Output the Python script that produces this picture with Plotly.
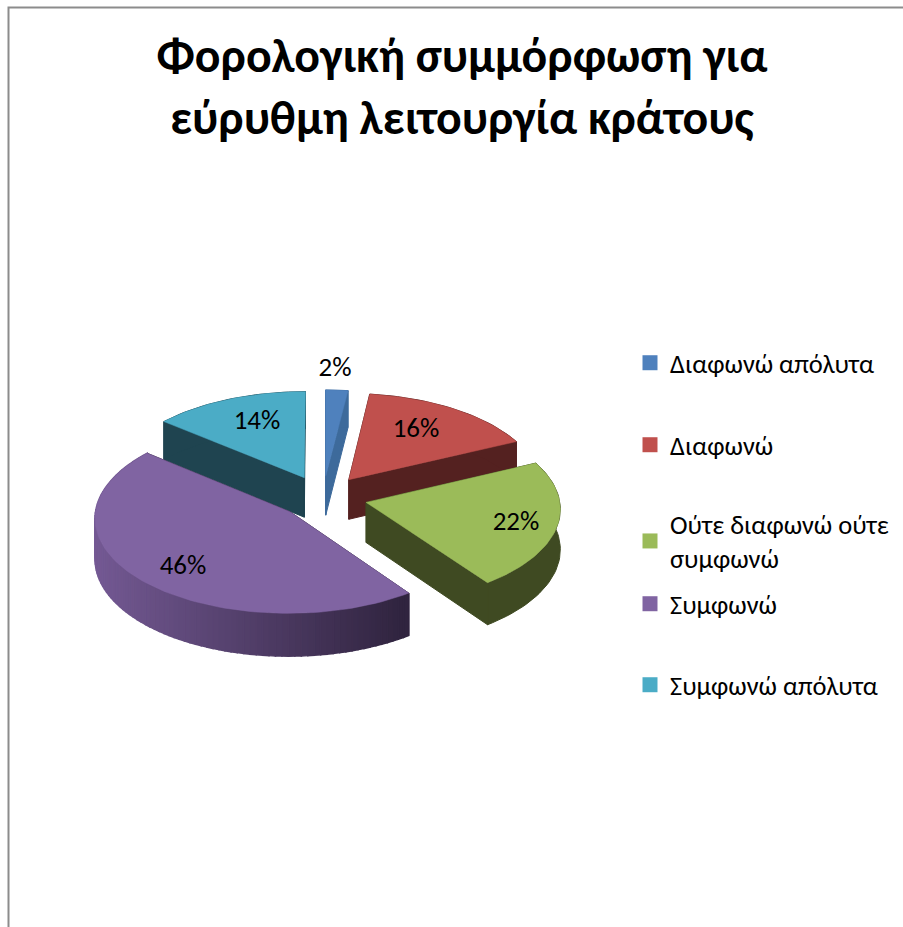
import math
import plotly.graph_objects as go

# ---- data ----
TITLE_LINES = ["Φορολογική συμμόρφωση για", "εύρυθμη λειτουργία κράτους"]
categories = ["Διαφωνώ απόλυτα", "Διαφωνώ", "Ούτε διαφωνώ ούτε<br>συμφωνώ", "Συμφωνώ", "Συμφωνώ απόλυτα"]
values = [2, 16, 22, 46, 14]

# ---- styles ----
top_colors = ["#4f81bd", "#c0504d", "#9bbb59", "#8064a2", "#4bacc6"]
wall_colors = ["#3d6a9b", "#542120", "#3f4a22", "#3b2d4c", "#1f4450"]
label_xy = [(335, 369), (416, 430), (516, 523), (183, 567), (257, 422)]
legend_y = [364, 446, 525, 605, 686]
FONT = "Carlito, Lato, 'Open Sans', sans-serif"
W, H = 903, 927
CX, CY, A, B, K, PULL, DEPTH = 323, 497, 193, 94, 0.06, 0.23, 40


def project(X, Y, drop=0.0):
    s = 1 - K * Y
    return CX + A * X * s, CY - B * Y * s + drop * s


def hexmix(c1, c2, f):
    a = [int(c1[i:i + 2], 16) for i in (1, 3, 5)]
    b = [int(c2[i:i + 2], 16) for i in (1, 3, 5)]
    return "#%02x%02x%02x" % tuple(round(p + (q - p) * f) for p, q in zip(a, b))


fig = go.Figure()


def poly(points, color, lw=1.0):
    xs = [p[0] for p in points] + [points[0][0]]
    ys = [p[1] for p in points] + [points[0][1]]
    fig.add_trace(go.Scatter(x=xs, y=ys, mode="lines", fill="toself", fillcolor=color,
                             line=dict(color=color, width=lw), hoverinfo="skip",
                             showlegend=False))


total = sum(values)
starts = []
acc = 0
for v in values:
    starts.append(acc)
    acc += v

# back-to-front painting order
for i in [4, 0, 1, 2, 3]:
    t0 = 2 * math.pi * starts[i] / total
    t1 = 2 * math.pi * (starts[i] + values[i]) / total
    mid = (t0 + t1) / 2
    ox, oy = PULL * math.sin(mid), PULL * math.cos(mid)
    n = max(8, int(values[i] * 2))
    ts = [t0 + (t1 - t0) * j / n for j in range(n + 1)]
    rim = [(ox + math.sin(t), oy + math.cos(t)) for t in ts]
    apex = (ox, oy)
    # cut-face walls
    for end in (rim[0], rim[-1]):
        poly([project(*apex), project(*end), project(*end, DEPTH), project(*apex, DEPTH)], wall_colors[i])
    # outer wall: flat, except the big front slice which is shaded along the rim
    if i == 3:
        for j in range(n):
            a, b = rim[j], rim[j + 1]
            f = (project(*a)[0] - 90) / 315
            col = hexmix("#755a95", "#30243f", max(0, min(1, f)))
            poly([project(*a), project(*b), project(*b, DEPTH), project(*a, DEPTH)], col, lw=1.5)
    else:
        poly([project(*p) for p in rim] + [project(*p, DEPTH) for p in reversed(rim)], wall_colors[i])
    # top face
    poly([project(*apex)] + [project(*p) for p in rim], top_colors[i], lw=0.5)

# percentage labels
fig.add_trace(go.Scatter(
    x=[p[0] for p in label_xy], y=[p[1] for p in label_xy], mode="text",
    text=[f"{v}%" for v in values], textposition="middle center",
    textfont=dict(family=FONT, size=27, color="#000000"),
    hoverinfo="skip", showlegend=False))

# one legend per entry, as the reference spaces entries regardless of wrapping
layout_legends = {}
for i, name in enumerate(categories):
    key = "legend" if i == 0 else f"legend{i + 1}"
    fig.add_trace(go.Scatter(x=[None], y=[None], mode="markers", name=name, legend=key,
                             marker=dict(symbol="square", size=15, color=top_colors[i])))
    layout_legends[key] = dict(x=630 / W, xanchor="left", y=1 - (legend_y[i] - 25) / H, yanchor="top",
                               bgcolor="rgba(0,0,0,0)", borderwidth=0,
                               font=dict(family=FONT, size=26.5, color="#000000"))

fig.update_layout(
    width=W, height=H, autosize=False,
    margin=dict(l=0, r=0, t=0, b=0),
    paper_bgcolor="#ffffff", plot_bgcolor="#ffffff",
    title=dict(text="<br>".join(TITLE_LINES), x=462 / W, xanchor="center", y=1 - 72 / H, yanchor="top",
               font=dict(family=FONT, size=47.8, color="#000000", weight="bold")),
    xaxis=dict(range=[0, W], visible=False, domain=[0, 1], fixedrange=True),
    yaxis=dict(range=[H, 0], visible=False, domain=[0, 1], fixedrange=True),
    shapes=[dict(type="path", path=f"M 8.5 {H} L 8.5 7.5 L {W} 7.5", xref="x", yref="y",
                 line=dict(color="#8c8c8c", width=2))],
    **layout_legends,
)

fig.write_html("out.html", config={"displayModeBar": False},
               post_script="document.body.style.margin='0';")
